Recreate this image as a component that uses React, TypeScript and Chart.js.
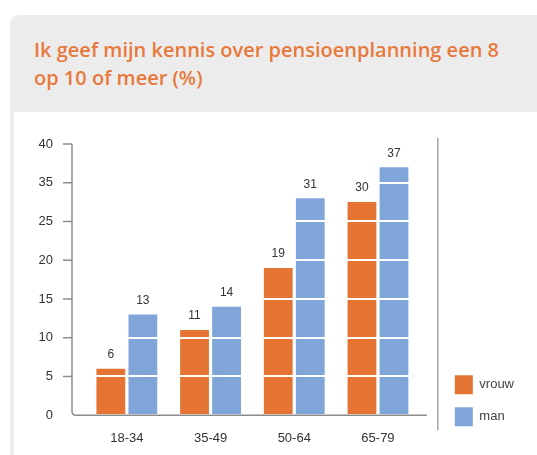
import React, { useEffect, useRef } from "react";
import { Chart, registerables } from "chart.js";
Chart.register(...registerables);

const categories = ["18-34", "35-49", "50-64", "65-79"];
const seriesNames = ["vrouw", "man"];
const vrouwValues = [6, 11, 19, 30];
const manValues = [13, 14, 31, 37];
const yTickValues = [0, 5, 10, 15, 20, 25, 35, 40];
const titleLines = ["Ik geef mijn kennis over pensioenplanning een 8", "op 10 of meer (%)"];

const ORANGE = "#e57432";
const BLUE = "#7fa5d9";
const STEP = 5;

// the source axis is evenly spaced over its tick labels (0..25, 35, 40)
function toAxis(v: number): number {
  for (let i = 0; i < yTickValues.length - 1; i++) {
    const a = yTickValues[i];
    const b = yTickValues[i + 1];
    if (v <= b) return i * STEP + ((v - a) / (b - a)) * STEP;
  }
  return (yTickValues.length - 1) * STEP;
}

const FONT = "'Liberation Sans', Arial, sans-serif";
const allValues = [vrouwValues, manValues];

const decorPlugin = {
  id: "decor",
  afterLayout(chart: any) {
    const lg = chart.legend;
    if (lg) {
      const h = lg.bottom - lg.top;
      lg.bottom = chart.chartArea.bottom + 24;
      lg.top = lg.bottom - h;
    }
  },
  afterDraw(chart: any) {
    const ctx = chart.ctx;
    const area = chart.chartArea;
    const y = chart.scales.y;
    const ax = area.left - 13;
    const bottom = area.bottom;
    const right = area.right + 7;
    ctx.save();
    // value labels
    ctx.font = `12px ${FONT}`;
    ctx.fillStyle = "#333";
    ctx.textAlign = "center";
    ctx.textBaseline = "middle";
    chart.data.datasets.forEach((_ds: any, di: number) => {
      const meta = chart.getDatasetMeta(di);
      meta.data.forEach((bar: any, i: number) => {
        ctx.fillText(String(allValues[di][i]), bar.x, bar.y - 14);
      });
    });
    // axes
    ctx.strokeStyle = "#8c8c8c";
    ctx.lineWidth = 1.5;
    ctx.beginPath();
    ctx.moveTo(ax, y.getPixelForValue(y.max));
    ctx.lineTo(ax, bottom - 4);
    ctx.quadraticCurveTo(ax, bottom, ax + 4, bottom);
    ctx.lineTo(right, bottom);
    ctx.stroke();
    y.ticks.forEach((t: any) => {
      const py = y.getPixelForValue(t.value);
      if (t.value === 0) return;
      ctx.beginPath();
      ctx.moveTo(ax - 9, py);
      ctx.lineTo(ax, py);
      ctx.stroke();
    });
    // separator before legend
    ctx.strokeStyle = "#a8a8a8";
    ctx.beginPath();
    ctx.moveTo(right + 11, area.top - 6);
    ctx.lineTo(right + 11, bottom + 15);
    ctx.stroke();
    ctx.restore();
  },
};

function BarChart() {
  const ref = useRef<HTMLCanvasElement>(null);
  useEffect(() => {
    const chart = new Chart(ref.current as HTMLCanvasElement, {
      type: "bar",
      data: {
        labels: categories,
        datasets: [
          {
            label: seriesNames[0],
            data: vrouwValues.map(toAxis),
            backgroundColor: ORANGE,
            categoryPercentage: 0.765,
            barPercentage: 0.9,
          },
          {
            label: seriesNames[1],
            data: manValues.map(toAxis),
            backgroundColor: BLUE,
            categoryPercentage: 0.765,
            barPercentage: 0.9,
          },
        ],
      },
      options: {
        responsive: false,
        animation: false,
        layout: { padding: { top: 144, left: 0, bottom: 0, right: 13 } },
        plugins: {
          legend: {
            position: "right",
            align: "end",
            labels: {
              boxWidth: 18,
              boxHeight: 19,
              padding: 13,
              color: "#444",
              font: { family: FONT, size: 13 },
            },
          },
          tooltip: { enabled: false },
        },
        scales: {
          x: {
            grid: { display: false, drawTicks: false },
            border: { display: false },
            ticks: { padding: 15, color: "#333", font: { family: FONT, size: 13 } },
            afterFit: (s: any) => {
              s.height = 35;
            },
          },
          y: {
            min: 0,
            max: (yTickValues.length - 1) * STEP,
            ticks: {
              stepSize: STEP,
              padding: 32,
              color: "#333",
              font: { family: FONT, size: 13 },
              callback: (_v: any, i: number) => String(yTickValues[i]),
            },
            grid: { color: "#ffffff", lineWidth: 2, drawTicks: false, z: 1 },
            border: { display: false },
            afterFit: (s: any) => {
              s.width = 85;
            },
          },
          spacer: {
            type: "linear",
            position: "right",
            display: true,
            grid: { display: false, drawTicks: false },
            ticks: { display: false },
            border: { display: false },
            afterFit: (s: any) => {
              s.width = 22;
            },
          },
        },
      } as any,
      plugins: [decorPlugin],
    });
    return () => chart.destroy();
  }, []);
  return <canvas ref={ref} width={537} height={455} style={{ position: "absolute", left: 0, top: 0 }} />;
}

export default function App() {
  return (
    <div style={{ position: "fixed", left: 0, top: 0, width: 537, height: 455, background: "#fff", overflow: "hidden" }}>
      <div
        style={{
          position: "absolute",
          left: 10,
          top: 15,
          width: 560,
          height: 460,
          background: "#ececec",
          borderTopLeftRadius: 9,
        }}
      />
      <div style={{ position: "absolute", left: 14, top: 112, width: 560, height: 400, background: "#fff" }} />
      <div
        style={{
          position: "absolute",
          left: 34,
          top: 36,
          fontFamily: "'Open Sans', sans-serif",
          fontWeight: 600,
          fontSize: 20,
          lineHeight: "28px",
          color: "#e8793c",
          whiteSpace: "nowrap",
        }}
      >
        {titleLines[0]}
        <br />
        {titleLines[1]}
      </div>
      <BarChart />
    </div>
  );
}
